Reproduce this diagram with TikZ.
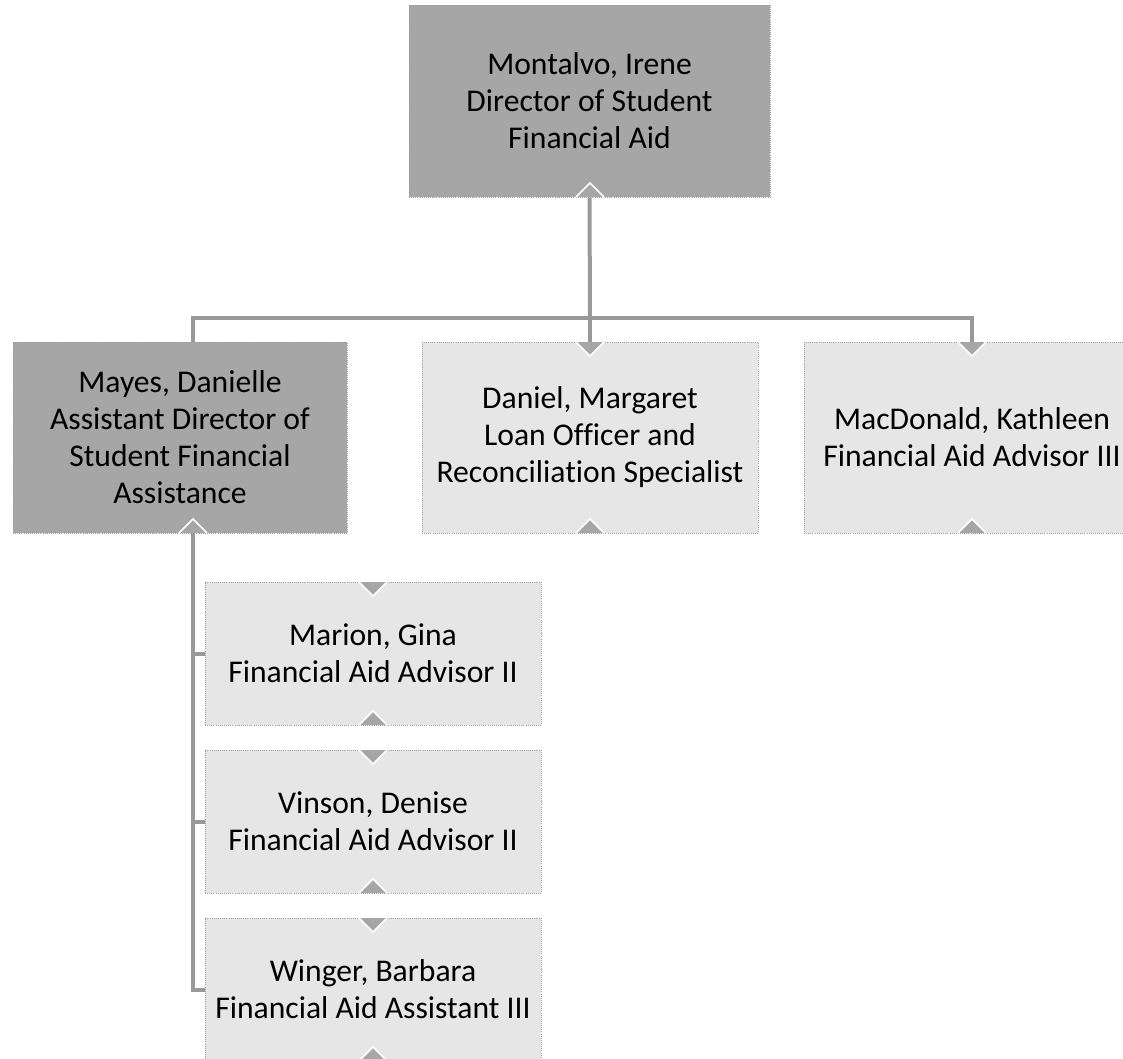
\documentclass[tikz,border=0pt]{standalone}
\usepackage{fontspec}
\setmainfont{Carlito}[Ligatures=NoCommon]
\usepackage{tikz}

\definecolor{boxdark}{HTML}{A6A6A6}
\definecolor{boxlight}{HTML}{E6E6E6}
\definecolor{linegray}{HTML}{999999}
\definecolor{rimgray}{HTML}{9C9C9C}

\begin{document}
\begin{tikzpicture}
  [x=0.25mm,y=-0.25mm,
   every node/.style={rectangle,draw=rimgray,densely dotted,line width=0.5pt,
     align=center,inner sep=0pt,font=\fontsize{22.5}{26.3}\selectfont},
   head/.style={fill=boxdark,minimum width=90.25mm,minimum height=48mm},
   dark/.style={fill=boxdark,minimum width=83.5mm,minimum height=47.75mm},
   light/.style={fill=boxlight,minimum width=84mm}]
 \tikzset{EdgeStyle/.style={draw=linegray,line width=1mm}}
 \tikzset{notch/.style={fill=boxdark,draw=white,line width=0.4mm,solid}}
 \clip (0,0) rectangle (1123,1058);

  \node[head] (dir) at (589.5,101) {Montalvo, Irene\\Director of Student\\Financial Aid};
 \node[dark] (mayes) at (180,437.5) {Mayes, Danielle\\Assistant Director of\\Student Financial\\Assistance};
  \node[light,minimum height=47.75mm] (daniel) at (590,437.5) {Daniel, Margaret\\Loan Officer and\\Reconciliation Specialist};
  \node[light,minimum height=47.75mm] (macd) at (972,437.5) {MacDonald, Kathleen\\Financial Aid Advisor III};
 \node[light,minimum height=35.75mm] (marion) at (373,653.5) {Marion, Gina\\Financial Aid Advisor II};
  \node[light,minimum height=35.75mm] (vinson) at (373,821.5) {Vinson, Denise\\Financial Aid Advisor II};
  \node[light,minimum height=35.75mm] (winger) at (373,989.5) {Winger, Barbara\\Financial Aid Assistant III};

 % connectors
 \coordinate (bus) at (590,318);
  \coordinate (mtop) at (193,342);
 \coordinate (mbot) at (193,533);
  \draw[EdgeStyle] (dir.south) -- (bus);
 \draw[EdgeStyle] (bus) -| (mtop);
 \foreach \to in {daniel,macd}
    \draw[EdgeStyle] (bus) -| ([yshift=-1mm]\to.north);
 \foreach \to in {marion,vinson,winger}
    \draw[EdgeStyle] (mbot) |- (\to.west);

 % arrow notches
 \foreach \x/\y in {590/197,193/533,590/533,972/533,373/725,373/893,373/1061}
    \draw[notch] (\x-14,\y) -- (\x,\y-14) -- (\x+14,\y);
 \foreach \x/\y in {590/342,972/342,373/582,373/750,373/918}
    \draw[notch] (\x-14,\y) -- (\x,\y+14) -- (\x+14,\y);

\end{tikzpicture}
\end{document}
